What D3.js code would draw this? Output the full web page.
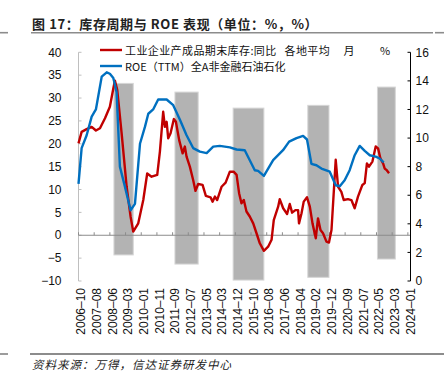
<!DOCTYPE html>
<html><head><meta charset="utf-8">
<script src="https://cdn.jsdelivr.net/npm/d3@7"></script>
<style>body{margin:0;background:#fff}svg{display:block}</style>
</head><body>
<script>
// ---- data ----
const xTickLabels = ["2006-10","2007-08","2008-06","2009-03","2010-01","2010-11","2011-09","2012-07","2013-05","2014-03","2014-12","2015-10","2016-08","2017-06","2018-04","2019-02","2019-12","2020-09","2021-07","2022-05","2023-03","2024-01"];
// inventory YoY (left axis, %), positions in category index
const invPos = [0,2,5.2,8.4,11.1,13.7,16.9,20,22.2,23.2,24.7,27.5,30.7,33.2,34.9,38.1,41.3,43.8,46.6,50.2,51.9,54,55.1,56.2,57.2,58.7,60.8,62.1,64.2,66.4,67.8,68.9,71,73.1,74.6,76.3,79.1,81.2,84.2,85.5,87,88.4,91.2,93.8,96.5,98.9,100.8,102.4,103.9,105.4,107.1,109.2,111.4,113.5,115.6,118.2,120.9,123.1,124.5,127.3,128.3,130.5,133,134.7,136.2,138.3,140,140.6,142.2,143.6,145.7,147.5,149.2,151.3,152.7,154.3,155.9,158.1,159.7,161.3,164,165.5,167.6,169.1,171.8,174,176.1,178.2,181,182.5,183.9,185.2,187.4,189.5,191,192.5,194.2,195.2,196.3,198];
const invVal = [20.1,22.6,23.2,23.7,22.9,23.4,25.6,28.1,32.1,33.8,31.8,22.3,10.6,4.1,0.8,2.6,7.7,13.5,12.8,13.2,18.3,27.0,23.7,24.8,21.2,22.3,25.4,24.8,20.8,17.9,19.4,17.2,15.0,12.1,9.7,11.2,11.0,8.6,8.3,7.35,8.45,7.7,10.6,11.5,13.9,13.9,13.2,9.2,7.0,7.7,5.2,4.1,2.6,0.44,-1.75,-3.4,-2.5,-1.0,3.3,6.25,7.9,5.9,4.66,6.84,4.94,5.5,5.5,2.6,4.8,7.35,8.3,6.25,2.6,-0.65,3.7,1.16,0.44,-1.4,-1.6,1.16,16.5,10.6,9.5,7.7,7.9,7.7,5.9,8.45,11.0,11.4,15.7,15.0,16.1,19.4,19.0,16.8,15.7,14.6,14.3,13.55];
// ROE TTM (right axis, %)
const roePos = [0,2,5.2,8.4,11.1,14.8,18,20,22.2,24.3,26.4,29.6,33.2,36,39.2,42.4,44.5,47.6,50.8,56.2,60.4,64.6,68.9,73.1,77.4,81.7,85.9,90.1,96.5,100.8,106,112.4,114.5,118.2,124.1,130.4,134.3,139,143.2,145.7,148.5,151.7,154.9,160.2,164,166.6,169.7,172.9,176.1,179.3,182.5,185.7,189.5,192,194.6];
const roeVal = [6.8,9.3,10.2,11.5,12.0,14.3,14.6,14.5,14.2,13.2,8.0,6.6,4.95,5.4,9.6,10.8,11.7,12.0,12.7,12.7,12.3,11.3,10.2,9.3,9.05,8.95,9.4,9.45,9.35,9.2,9.15,7.75,7.7,7.35,8.45,9.15,9.75,10.0,10.15,9.9,8.2,8.1,7.87,7.65,6.7,6.63,7.05,7.75,8.8,9.45,9.1,8.8,8.7,8.57,8.3];
// shaded destocking periods (left-axis units)
const barStart = [22.6,61.5,98.6,146.2,190.6];
const barEnd   = [34.9,76.3,118.2,159.7,202];
const barHigh  = [33.2,31.3,27.8,28.4,32.4];
const barLow   = [-4.3,-6.3,-9.8,-9.2,-5.2];
const leftTicks = [-10,-5,0,5,10,15,20,25,30,35,40];
const rightTicks = [0,2,4,6,8,10,12,14,16];
const seriesNames = ["工业企业产成品期末库存:同比","ROE（TTM）全A非金融石油石化"];

// ---- chart ----
const W=444,H=381;
const svg=d3.select("body").append("svg").attr("width",W).attr("height",H);
const cjk='"Noto Sans CJK SC","Noto Sans",sans-serif';
const num='"Liberation Sans",Arial,sans-serif';

const x=d3.scaleLinear().domain([0,212]).range([78.5,411]);
const yL=d3.scaleLinear().domain([-10,40]).range([281,52.3]);
const yR=d3.scaleLinear().domain([0,16]).range([281,52.3]);

// title
svg.append("text").attr("x",32).attr("y",23).attr("dominant-baseline","central")
  .attr("font-family",cjk).attr("font-weight","bold").attr("font-size",13)
  .attr("letter-spacing",0.6).attr("fill","#222")
  .text("图 17：库存周期与 ROE 表现（单位：%，%）");
const rule=(x1,x2,y,c,w)=>svg.append("line").attr("x1",x1).attr("x2",x2).attr("y1",y).attr("y2",y).attr("stroke",c).attr("stroke-width",w);
rule(31,433,32.7,"#8c8c8c",1.6);rule(0,8,32.7,"#8c8c8c",1.6);rule(435,444,32.7,"#8c8c8c",1.6);
rule(30,444,354,"#666",1.3);rule(0,8,354,"#666",1.3);
svg.append("text").attr("x",32).attr("y",364).attr("dominant-baseline","central")
  .attr("font-family",cjk).attr("font-style","italic").attr("font-size",11.5)
  .attr("letter-spacing",1).attr("fill","#222").text("资料来源：万得，信达证券研发中心");

// bars
svg.append("g").selectAll("rect").data(barStart).join("rect")
  .attr("x",(d,i)=>x(d)).attr("width",(d,i)=>x(barEnd[i])-x(d))
  .attr("y",(d,i)=>yL(barHigh[i])).attr("height",(d,i)=>yL(barLow[i])-yL(barHigh[i]))
  .attr("fill","#b3b3b3").attr("stroke","#d6d6d6").attr("stroke-width",1);

// left axis
const gL=svg.append("g").attr("transform",`translate(${x(0)},0)`);
gL.append("line").attr("y1",yL(40)).attr("y2",yL(-10)).attr("stroke","#bfbfbf");
gL.selectAll("line.t").data(leftTicks).join("line").attr("class","t")
  .attr("x1",0).attr("x2",3).attr("y1",d=>yL(d)).attr("y2",d=>yL(d)).attr("stroke","#bfbfbf");
gL.selectAll("text").data(leftTicks).join("text")
  .attr("x",-17).attr("y",d=>yL(d)).attr("dy","0.35em").attr("text-anchor","end")
  .attr("font-family",num).attr("font-size",12).attr("fill","#111")
  .text(d=>d<0?"\u2212"+Math.abs(d):d);

// zero line with category ticks
const xTicks=xTickLabels.map((d,i)=>i*10);
svg.append("line").attr("x1",x(0)).attr("x2",x(212)).attr("y1",yL(0)).attr("y2",yL(0)).attr("stroke","#8c8c8c");
svg.append("g").selectAll("line").data(xTicks).join("line")
  .attr("x1",d=>x(d)).attr("x2",d=>x(d)).attr("y1",yL(0)).attr("y2",yL(0)-3).attr("stroke","#8c8c8c");
svg.append("g").selectAll("text").data(xTickLabels).join("text")
  .attr("transform",(d,i)=>`translate(${x(i*10)+2.5},288) rotate(-90)`)
  .attr("dy","0.35em").attr("text-anchor","end")
  .attr("font-family",num).attr("font-size",12).attr("fill","#111")
  .text(d=>d.replace("-","\u2013"));

// right axis
const gR=svg.append("g").attr("transform","translate(410.5,0)");
gR.append("line").attr("y1",yR(16)).attr("y2",yR(0)).attr("stroke","#000");
gR.selectAll("line.t").data(rightTicks).join("line").attr("class","t")
  .attr("x1",-3).attr("x2",0).attr("y1",d=>yR(d)).attr("y2",d=>yR(d)).attr("stroke","#000");
gR.selectAll("text").data(rightTicks).join("text")
  .attr("x",5).attr("y",d=>yR(d)).attr("dy","0.35em")
  .attr("font-family",num).attr("font-size",12).attr("fill","#111").text(d=>d);

// lines
const lineL=d3.line().x(d=>x(d[0])).y(d=>yL(d[1]));
const lineR=d3.line().x(d=>x(d[0])).y(d=>yR(d[1]));
svg.append("path").attr("d",lineL(invPos.map((p,i)=>[p,invVal[i]])))
  .attr("fill","none").attr("stroke","#c00000").attr("stroke-width",2.4).attr("stroke-linejoin","round");
svg.append("path").attr("d",lineR(roePos.map((p,i)=>[p,roeVal[i]])))
  .attr("fill","none").attr("stroke","#0070c0").attr("stroke-width",2.4).attr("stroke-linejoin","round");

// legend
const lg=svg.append("g");
const legY=[50,66];
[["#c00000",legY[0]],["#0070c0",legY[1]]].forEach(([c,yy])=>{
  lg.append("line").attr("x1",100).attr("x2",122).attr("y1",yy).attr("y2",yy).attr("stroke",c).attr("stroke-width",2.4);
});
const t1=lg.append("text").attr("y",legY[0]).attr("dominant-baseline","central")
  .attr("font-family",cjk).attr("font-size",11).attr("fill","#111");
t1.append("tspan").attr("x",125).attr("letter-spacing",0.4).text(seriesNames[0]);
t1.append("tspan").attr("x",284.5).attr("letter-spacing",0.4).text("各地平均");
t1.append("tspan").attr("x",343.5).text("月");
t1.append("tspan").attr("x",380).text("%");
lg.append("text").attr("x",125).attr("y",legY[1]).attr("dominant-baseline","central")
  .attr("font-family",cjk).attr("font-size",11).attr("fill","#111").text(seriesNames[1]);
</script>
</body></html>
